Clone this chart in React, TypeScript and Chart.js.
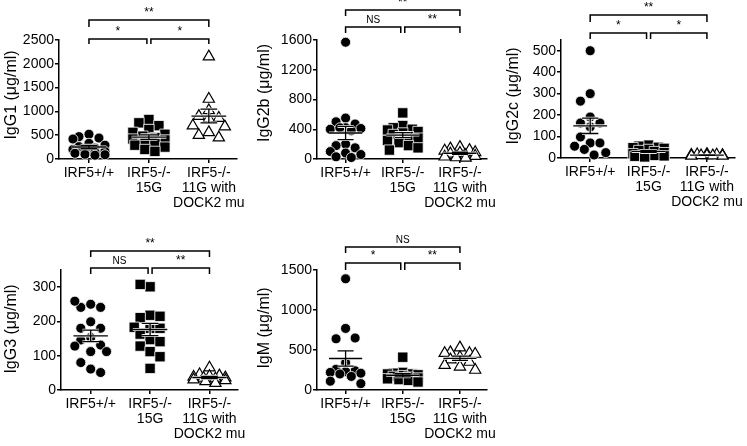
import React, { useEffect, useRef } from "react";
import { Chart, registerables } from "chart.js";

Chart.register(...registerables);

const FONT = "'Liberation Sans', Arial, Helvetica, sans-serif";

// ---------- data ----------
const categoryLabels: string[][] = [["IRF5+/+"], ["IRF5-/-", "15G"], ["IRF5-/-", "11G with", "DOCK2 mu"]];

// IgG1 (µg/ml)
const igg1WT = [520, 470, 440, 420, 330, 290, 260, 230, 200, 180, 160, 140, 120, 100, 90, 80];
const igg1KO15G = [830, 760, 700, 620, 560, 520, 480, 450, 420, 400, 370, 330, 290, 250, 200, 160];
const igg1KO11G = [2150, 1260, 1020, 900, 860, 850, 700, 680, 560, 500, 450];
const igg1Sig = ["**", "*", "*"];

// IgG2b (µg/ml)
const igg2bWT = [1570, 550, 500, 470, 420, 400, 410, 420, 380, 200, 180, 150, 100, 80, 60, 30, 20];
const igg2bKO15G = [620, 450, 420, 400, 390, 370, 350, 330, 300, 280, 250, 220, 180, 150, 120];
const igg2bKO11G = [160, 140, 120, 110, 90, 80, 70, 50, 40, 30, 20, 15];
const igg2bSig = ["**", "NS", "**"];

// IgG2c (µg/ml)
const igg2cWT = [500, 300, 265, 191, 163, 163, 145, 98, 70, 70, 55, 40, 25, 14];
const igg2cKO15G = [60, 55, 50, 48, 45, 40, 35, 30, 25, 20, 15, 12, 10, 8, 5];
const igg2cKO11G = [18, 16, 15, 14, 13, 12, 12, 11, 10, 10];
const igg2cSig = ["**", "*", "*"];

// IgG3 (µg/ml)
const igg3WT = [250, 241, 241, 259, 199, 180, 180, 153, 146, 131, 128, 112, 112, 80, 61, 51];
const igg3KO15G = [301, 308, 218, 211, 215, 180, 180, 183, 163, 147, 141, 128, 112, 97, 63];
const igg3KO11G = [65, 45, 42, 40, 38, 36, 35, 33, 30, 28, 25, 20];
const igg3Sig = ["**", "NS", "**"];

// IgM (µg/ml)
const igmWT = [1390, 770, 640, 650, 340, 260, 240, 230, 220, 210, 200, 170, 110, 80];
const igmKO15G = [410, 220, 210, 200, 200, 190, 180, 170, 160, 150, 140, 130, 120, 100];
const igmKO11G = [530, 470, 460, 460, 450, 410, 380, 350, 310, 290, 250];
const igmSig = ["NS", "*", "**"];

// ---------- layout ----------
type Panel = {
  left: number; top: number; width: number; height: number;
  areaLeft: number; areaTop: number; areaBottom: number;
  yMax: number; yStep: number;
  title: string; titleX: number; titleY: number;
  groups: number[][];
  sig: string[];
  bracketTop: number; bracketLow: number; dropTop: number; dropLow: number;
};

const AREA_W = 178;
const X_MIN = -0.5;
const X_MAX = 2.47;

const panels: Panel[] = [
  { left: 0, top: 0, width: 250, height: 220, areaLeft: 59, areaTop: 40, areaBottom: 159, yMax: 2500, yStep: 500,
    title: "IgG1 (μg/ml)", titleX: 12, titleY: 95, groups: [igg1WT, igg1KO15G, igg1KO11G], sig: igg1Sig,
    bracketTop: 20, bracketLow: 39, dropTop: 7, dropLow: 5 },
  { left: 250, top: 0, width: 250, height: 220, areaLeft: 67, areaTop: 40, areaBottom: 159, yMax: 1600, yStep: 400,
    title: "IgG2b (μg/ml)", titleX: 15, titleY: 93, groups: [igg2bWT, igg2bKO15G, igg2bKO11G], sig: igg2bSig,
    bracketTop: 10, bracketLow: 27, dropTop: 6, dropLow: 6 },
  { left: 500, top: 0, width: 247, height: 220, areaLeft: 61, areaTop: 40, areaBottom: 158, yMax: 550, yStep: 100,
    title: "IgG2c (μg/ml)", titleX: 14, titleY: 96, groups: [igg2cWT, igg2cKO15G, igg2cKO11G], sig: igg2cSig,
    bracketTop: 15, bracketLow: 33, dropTop: 7, dropLow: 6 },
  { left: 0, top: 220, width: 250, height: 226, areaLeft: 61, areaTop: 50, areaBottom: 170, yMax: 350, yStep: 100,
    title: "IgG3 (μg/ml)", titleX: 12, titleY: 109, groups: [igg3WT, igg3KO15G, igg3KO11G], sig: igg3Sig,
    bracketTop: 31, bracketLow: 48, dropTop: 6, dropLow: 6 },
  { left: 250, top: 220, width: 250, height: 226, areaLeft: 67, areaTop: 50, areaBottom: 170, yMax: 1500, yStep: 500,
    title: "IgM (μg/ml)", titleX: 15, titleY: 108, groups: [igmWT, igmKO15G, igmKO11G], sig: igmSig,
    bracketTop: 27, bracketLow: 43, dropTop: 6, dropLow: 7 },
];

// deterministic swarm layout: points in the same value band are spread side by side,
// offsets (px) limited to +-limit, choosing the position with the least crowding
function swarm(values: number[], pxPerUnit: number, sx: number, sy: number, limit: number): number[] {
  const placed: { x: number; y: number }[] = [];
  return values.map((v) => {
    const y = v * pxPerUnit;
    let best = 0;
    let bestCost = Infinity;
    for (let step = 0; step <= 2 * limit; step++) {
      const c = step % 2 === 0 ? step / 2 : -(step + 1) / 2;
      if (Math.abs(c) > limit) continue;
      let cost = 0;
      for (const p of placed) {
        const dx = Math.abs(p.x - c), dy = Math.abs(p.y - y);
        if (dx < sx && dy < sy) cost += (1 - dx / sx) * (1 - dy / sy);
      }
      if (cost < bestCost - 1e-6) { bestCost = cost; best = c; }
      if (cost === 0) break;
    }
    placed.push({ x: best, y });
    return best;
  });
}

function meanSem(vals: number[]) {
  const n = vals.length;
  const mean = vals.reduce((a, b) => a + b, 0) / n;
  const sd = Math.sqrt(vals.reduce((a, b) => a + (b - mean) ** 2, 0) / (n - 1));
  return { mean, sem: sd / Math.sqrt(n) };
}

function makeOverlay(p: Panel) {
  return {
    id: "overlay",
    afterDatasetsDraw(chart: any) {
      const { ctx } = chart;
      const xs = chart.scales.x, ys = chart.scales.y;
      ctx.save();
      p.groups.forEach((vals, gi) => {
        const { mean, sem } = meanSem(vals);
        const cx = xs.getPixelForValue(gi);
        const hw = xs.getPixelForValue(gi + 0.29) - cx;
        const cw = xs.getPixelForValue(gi + 0.14) - cx;
        const ym = ys.getPixelForValue(mean);
        const yu = ys.getPixelForValue(mean + sem);
        const yl = ys.getPixelForValue(Math.max(0, mean - sem));
        const path = () => {
          ctx.beginPath();
          ctx.moveTo(cx - hw, ym); ctx.lineTo(cx + hw, ym);
          ctx.moveTo(cx, yu); ctx.lineTo(cx, yl);
          ctx.moveTo(cx - cw, yu); ctx.lineTo(cx + cw, yu);
          ctx.moveTo(cx - cw, yl); ctx.lineTo(cx + cw, yl);
        };
        path(); ctx.strokeStyle = "rgba(255,255,255,0.9)"; ctx.lineWidth = 3; ctx.stroke();
        path(); ctx.strokeStyle = "#000"; ctx.lineWidth = 1.3; ctx.stroke();
      });
      ctx.restore();
    },
    afterDraw(chart: any) {
      const { ctx } = chart;
      const xs = chart.scales.x;
      ctx.save();
      const defs = [
        { from: 0, to: 2, y: p.bracketTop, drop: p.dropTop, label: p.sig[0], tl: 0, tr: 0 },
        { from: 0, to: 1, y: p.bracketLow, drop: p.dropLow, label: p.sig[1], tl: 0, tr: 2 },
        { from: 1, to: 2, y: p.bracketLow, drop: p.dropLow, label: p.sig[2], tl: 2, tr: 0 },
      ];
      ctx.strokeStyle = "#000";
      ctx.fillStyle = "#000";
      ctx.lineWidth = 1.5;
      defs.forEach((b) => {
        const x1 = xs.getPixelForValue(b.from) + b.tl;
        const x2 = xs.getPixelForValue(b.to) - b.tr;
        ctx.beginPath();
        ctx.moveTo(x1, b.y + b.drop);
        ctx.lineTo(x1, b.y);
        ctx.lineTo(x2, b.y);
        ctx.lineTo(x2, b.y + b.drop);
        ctx.stroke();
        const isStar = b.label.indexOf("*") >= 0;
        ctx.font = `${isStar ? 12 : 10}px ${FONT}`;
        ctx.textAlign = "center";
        ctx.textBaseline = "bottom";
        ctx.fillText(b.label, (x1 + x2) / 2, b.y - (isStar ? 1 : 2));
      });
      ctx.translate(p.titleX, p.titleY);
      ctx.rotate(-Math.PI / 2);
      ctx.font = `16px ${FONT}`;
      ctx.textAlign = "center";
      ctx.textBaseline = "middle";
      ctx.fillText(p.title, 0, 0);
      ctx.restore();
    },
  };
}

const markerStyles = [
  { pointStyle: "circle", radius: 5, bg: "#000", border: "#fff", bw: 0.8 },
  { pointStyle: "rect", radius: 7.3, bg: "#000", border: "#fff", bw: 0.8 },
  { pointStyle: "triangle", radius: 6.5, bg: "#fff", border: "#000", bw: 1.2 },
];

function PanelChart({ panel }: { panel: Panel }) {
  const ref = useRef<HTMLCanvasElement>(null);
  useEffect(() => {
    const p = panel;
    const pxPerCat = AREA_W / (X_MAX - X_MIN);
    const pxPerUnit = (p.areaBottom - p.areaTop) / p.yMax;
    const datasets = p.groups.map((vals, gi) => {
      const st = markerStyles[gi];
      const offs = swarm(vals, pxPerUnit, gi === 2 ? 10 : 10, 11, 16);
      return {
        type: "scatter" as const,
        data: vals.map((v, k) => ({ x: gi + offs[k] / pxPerCat, y: v })),
        pointStyle: st.pointStyle as any,
        pointRadius: st.radius,
        pointBackgroundColor: st.bg,
        pointBorderColor: st.border,
        pointBorderWidth: st.bw,
        showLine: false,
        clip: false as any,
      };
    });
    const yTicks: number[] = [];
    for (let v = 0; v <= p.yMax + 1e-9; v += p.yStep) yTicks.push(v);
    const chart = new Chart(ref.current!, {
      type: "scatter",
      data: { datasets },
      options: {
        animation: false,
        responsive: false,
        devicePixelRatio: 1,
        events: [],
        layout: { padding: { top: p.areaTop, left: 0, bottom: 0, right: p.width - p.areaLeft - AREA_W } },
        plugins: { legend: { display: false }, tooltip: { enabled: false } },
        scales: {
          x: {
            type: "linear",
            min: X_MIN,
            max: X_MAX,
            afterFit: (s: any) => { s.height = p.height - p.areaBottom; },
            afterBuildTicks: (s: any) => { s.ticks = [0, 1, 2].map((v) => ({ value: v })); },
            grid: { drawOnChartArea: false, drawTicks: true, tickLength: 4, color: "#000", lineWidth: 1.5 },
            border: { display: true, color: "#000", width: 1.5 },
            ticks: {
              color: "#000",
              font: { size: 14, family: FONT, lineHeight: 1.07 },
              padding: 3,
              maxRotation: 0,
              minRotation: 0,
              autoSkip: false,
              callback: (v: any) => categoryLabels[Math.round(Number(v))] || "",
            },
          },
          y: {
            type: "linear",
            min: 0,
            max: p.yMax,
            afterFit: (s: any) => { s.width = p.areaLeft; },
            afterBuildTicks: (s: any) => { s.ticks = yTicks.map((v) => ({ value: v })); },
            grid: { drawOnChartArea: false, drawTicks: true, tickLength: 4, color: "#000", lineWidth: 1.5 },
            border: { display: true, color: "#000", width: 1.5 },
            ticks: {
              color: "#000",
              font: { size: 14, family: FONT },
              padding: 1,
              callback: (v: any) => String(v),
            },
          },
        },
      } as any,
      plugins: [makeOverlay(p) as any],
    });
    return () => chart.destroy();
  }, [panel]);
  return (
    <canvas
      ref={ref}
      width={panel.width}
      height={panel.height}
      style={{ position: "absolute", left: panel.left, top: panel.top, width: panel.width, height: panel.height }}
    />
  );
}

export default function App() {
  return (
    <div style={{ position: "absolute", left: 0, top: 0, width: 747, height: 446, background: "#fff", overflow: "hidden" }}>
      {panels.map((p, i) => (
        <PanelChart key={i} panel={p} />
      ))}
    </div>
  );
}
